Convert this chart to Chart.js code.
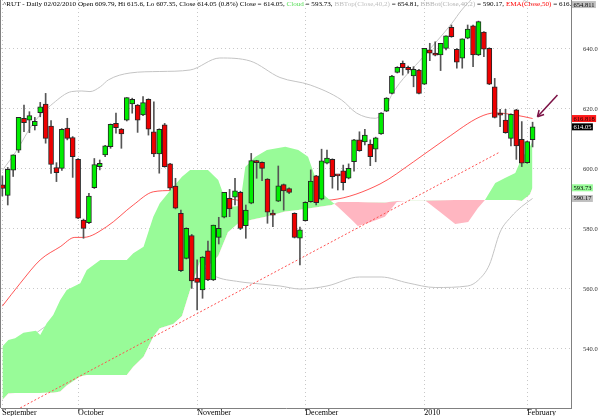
<!DOCTYPE html>
<html>
<head>
<meta charset="utf-8">
<script src="https://cdn.jsdelivr.net/npm/chart.js@4.4.1/dist/chart.umd.min.js"></script>
<style>
html, body { margin: 0; padding: 0; background: #fff; }
#wrap { position: relative; width: 600px; height: 416px; }
#title { position: absolute; left: 3px; top: 0; width: 568px; overflow: hidden; white-space: nowrap;
         font: 7.1px "Liberation Serif", serif; line-height: 9px; color: #000; }
</style>
</head>
<body>
<div id="wrap">
  <canvas id="chart" width="600" height="416"></canvas>
  <div id="title"></div>
</div>
<script>
// daily candles, 11 Sep 2009 .. 2 Feb 2010 (index = trading day)
const opens = [594.7, 591.2, 599.6, 606.3, 616.9, 616.3, 614.4, 618.8, 621.6, 614.3,
  600.5, 600.2, 613.6, 610.5, 603.2, 583.0, 582.1, 593.8, 600.8, 604.7,
  607.4, 615.2, 613.3, 616.3, 621.7, 621.3, 618.0, 623.2, 612.4, 605.0,
  614.7, 601.7, 594.3, 585.2, 570.2, 577.8, 563.6, 559.7, 572.7, 563.0,
  577.2, 583.9, 590.2, 590.6, 592.2, 581.1, 588.6, 602.7, 602.2, 596.6,
  585.1, 589.3, 594.8, 593.5, 585.2, 576.9, 582.8, 589.1, 597.7, 589.9,
  601.9, 603.2, 597.9, 599.4, 596.9, 602.4, 609.7, 609.0, 608.3, 606.6,
  611.7, 619.3, 625.2, 632.2, 635.2, 633.9, 631.0, 633.0, 628.3, 639.7,
  638.6, 638.0, 640.2, 647.2, 639.9, 636.9, 643.6, 647.7, 638.0, 645.6,
  640.2, 627.4, 618.6, 616.3, 610.2, 619.7, 609.9, 602.1, 609.79];
const highs = [597.7, 600.5, 604.7, 617.2, 621.3, 619.1, 617.2, 622.2, 625.2, 616.1,
  602.1, 613.5, 616.9, 610.8, 603.5, 583.3, 591.9, 603.5, 603.0, 607.9,
  615.0, 618.6, 613.5, 623.8, 623.6, 621.5, 624.1, 623.4, 622.4, 613.4,
  615.2, 601.9, 596.9, 586.3, 580.4, 578.2, 569.7, 570.8, 576.0, 581.3,
  583.9, 592.2, 593.2, 596.9, 592.6, 588.0, 605.2, 602.9, 602.4, 596.8,
  586.3, 601.0, 595.0, 593.7, 585.4, 580.6, 589.1, 599.7, 597.9, 606.6,
  606.3, 603.4, 598.1, 601.3, 601.7, 609.9, 612.4, 613.2, 609.7, 610.6,
  618.8, 623.8, 631.2, 634.1, 636.0, 634.3, 634.1, 633.2, 640.2, 641.9,
  642.4, 641.9, 644.4, 648.0, 640.1, 643.4, 648.0, 648.0, 649.3, 645.8,
  640.4, 630.2, 619.9, 619.9, 618.4, 619.9, 615.8, 609.3, 615.6];
const lows = [591.0, 588.0, 597.5, 605.5, 612.4, 612.1, 613.0, 617.4, 608.6, 598.5,
  595.8, 599.5, 609.7, 597.2, 583.4, 576.9, 581.8, 593.5, 599.7, 604.1,
  606.9, 611.9, 606.9, 616.0, 618.6, 612.2, 617.8, 611.3, 604.1, 598.6,
  600.6, 593.0, 586.7, 565.8, 570.0, 560.2, 553.0, 556.9, 562.8, 562.8,
  575.0, 583.7, 584.1, 588.0, 579.8, 576.9, 588.4, 596.9, 596.1, 581.9,
  580.8, 589.1, 586.3, 591.8, 577.0, 568.0, 582.6, 588.9, 588.0, 589.7,
  601.7, 593.6, 593.0, 593.0, 596.7, 599.3, 605.9, 608.0, 601.1, 602.4,
  611.5, 619.1, 625.0, 632.0, 631.3, 631.9, 627.4, 625.0, 628.1, 636.1,
  637.7, 632.8, 639.7, 643.9, 633.6, 633.6, 643.4, 634.1, 637.8, 637.4,
  628.1, 617.0, 614.1, 611.9, 607.7, 603.2, 600.8, 601.9, 607.35];
const closes = [593.5, 599.9, 604.7, 617.2, 615.4, 617.8, 615.9, 620.7, 610.2, 601.5,
  598.8, 613.2, 610.2, 604.1, 583.6, 580.2, 591.0, 601.5, 601.9, 607.7,
  614.9, 613.8, 611.7, 623.8, 623.2, 616.3, 622.1, 613.3, 605.0, 613.2,
  600.8, 593.6, 586.9, 566.1, 580.2, 562.7, 562.2, 570.6, 563.0, 581.3,
  580.2, 592.2, 586.7, 592.7, 580.2, 586.3, 602.8, 602.1, 600.2, 585.6,
  584.6, 594.4, 592.7, 592.2, 577.2, 579.7, 588.9, 596.0, 588.8, 602.7,
  603.6, 597.4, 597.7, 595.4, 600.2, 609.7, 606.1, 611.3, 604.1, 610.4,
  618.6, 623.6, 631.0, 633.9, 633.8, 633.0, 633.2, 625.2, 640.2, 638.6,
  637.9, 641.9, 644.4, 644.1, 635.6, 643.4, 646.6, 638.0, 649.1, 639.9,
  628.3, 617.2, 617.9, 612.1, 618.2, 607.7, 601.9, 609.1, 614.05];

// indicators, read at day positions
const bbTopIdx = [0, 2.7, 5.7, 9.4, 12.8, 14.7, 16.2, 18.1, 19.6, 23.6, 29.1, 34.7, 40.2, 45.8,
  51.3, 56.9, 62.7, 65.5, 68.9, 70.7, 71.9, 77.8, 83.1, 84.9, 87.4, 91.1, 94.8, 98];
const bbTopVal = [599.5, 606.3, 615.2, 621.9, 625.8, 626.0, 625.8, 627.4, 629.7, 632.0, 632.5, 633.0, 637.0, 636.0,
  630.5, 628.0, 623.0, 618.6, 616.9, 619.7, 624.5, 637.4, 648.6, 653.0, 657.5, 659.0, 657.5, 654.811];
const bbBotIdx = [0, 6, 12, 18, 24, 30, 34.7, 36.5, 38, 39, 43.9, 45.8, 51.3, 55, 60, 66, 70, 75, 80, 86,
  88, 90, 92, 94, 96, 98];
const bbBotVal = [535, 545, 552, 560, 566, 570, 571, 569, 566, 564.5, 562.4, 562, 561, 560, 561, 564, 564, 562, 560.5, 561,
  563, 568, 579, 584, 587.5, 590.17];
const emaIdx = [0, 3.3, 7.0, 10.7, 13.4, 15.0, 19.3, 24.2, 27.9, 31.3, 36.5, 43.9, 51.3, 60.9, 69.8, 76.0,
  82.1, 88.3, 91.1, 94.8, 98];
const emaVal = [554.3, 561.9, 569.7, 574.1, 577.2, 577.2, 580.8, 588.0, 592.4, 592.8, 592.0, 589.5, 589.0, 589.7, 595.0, 602.4,
  610.2, 617.4, 618.7, 618.0, 616.818];

// ichimoku cloud edges
const cloudIdx = [0, 1.1, 2.35, 3.9, 6.2, 7.0, 8.2, 9.4, 10.7, 11.9, 14.4, 15.6, 18.1, 23, 24.2, 26.1, 27.9, 29.1,
  31.6, 33.2, 34.7, 36.5, 38, 39.9, 41.7, 43.9, 44.9, 46.7, 48.9, 52.3, 54.7, 56.5, 57.8, 59, 60.9, 62,
  64.6, 65.7, 67.6, 70.7, 72.9, 75.4, 78.1, 80.9, 83.7, 86.1, 87.9, 89.2, 91.1, 92.9, 94.8, 96, 97.5, 98];
const spanA = [540.8, 543.0, 543.6, 545.4, 546.1, 544.7, 548.6, 551.3, 556.3, 559.7, 561.9, 566.3, 569.7, 569.7, 571.9, 574.1, 584.1, 588.6,
  594.1, 597.4, 599.7, 599.7, 599.7, 596.3, 587.3, 587.7, 600.7, 604.0, 606.3, 607.4, 606.3, 604.1, 597.4, 592.0, 589.1, 587.4,
  583.0, 581.0, 582.0, 584.1, 589.0, 589.5, 589.6, 585.7, 581.7, 582.3, 587.0, 589.7, 595.3, 597.0, 598.7, 603.7, 607.4, 609.3];
const spanB = [523.0, 525.2, 525.3, 525.3, 525.3, 525.3, 525.4, 525.4, 525.8, 527.8, 530.8, 531.3, 531.3, 531.3, 534.1, 537.4, 544.1, 546.9,
  548.3, 551.0, 559.7, 569.0, 567.5, 571.0, 578.9, 582.3, 582.6, 583.3, 584.2, 585.8, 586.3, 586.8, 587.2, 587.5, 588.0, 589.0,
  589.0, 589.0, 588.9, 588.8, 589.3, 589.4, 589.5, 589.6, 589.7, 589.7, 589.7, 589.7, 589.7, 589.7, 589.7, 589.3, 591.5, 593.73];

// drawn trend line and arrow annotation
const trendIdx = [2, 92];
const trendVal = [519.1, 605.7];
const arrowIdx = [102.6, 98.9];
const arrowVal = [624.7, 617.4];

const monthTickIdx = [0, 14, 36, 56, 78, 97];
const monthLabels = ['September', 'October', 'November', 'December', '2010', 'February'];
const yTicks = [540, 560, 580, 600, 620, 640];

const pts = (xs, ys) => xs.map((x, k) => ({ x: x, y: ys[k] }));
const dayIdx = opens.map((_, i) => i);
const isUp = closes.map((c, i) => c >= opens[i]);
const last = a => a[a.length - 1];

Chart.defaults.font.family = "'Liberation Serif', 'DejaVu Serif', serif";

const extras = {
  id: 'extras',
  beforeDatasetsDraw(chart) {
    const { ctx, chartArea: a } = chart;
    ctx.save();
    ctx.strokeStyle = '#808080';
    ctx.lineWidth = 1;
    ctx.beginPath();
    ctx.moveTo(a.left - 0.5, a.top);
    ctx.lineTo(a.left - 0.5, a.bottom);
    ctx.stroke();
    ctx.restore();
  },
  afterDatasetsDraw(chart) {
    // arrow head on the annotation
    const meta = chart.getDatasetMeta(chart.data.datasets.length - 1);
    const p0 = meta.data[0], p1 = meta.data[1];
    const ang = Math.atan2(p1.y - p0.y, p1.x - p0.x);
    const ctx = chart.ctx;
    ctx.save();
    ctx.strokeStyle = '#7b1145';
    ctx.lineWidth = 1.5;
    ctx.beginPath();
    [-0.5, 0.5].forEach(d => {
      ctx.moveTo(p1.x, p1.y);
      ctx.lineTo(p1.x - 7 * Math.cos(ang + d), p1.y - 7 * Math.sin(ang + d));
    });
    ctx.stroke();
    ctx.restore();
  },
  afterDraw(chart) {
    // last-value boxes on the right axis
    const { ctx, chartArea: a } = chart;
    const ys = chart.scales.y;
    const boxes = [
      { v: last(bbTopVal), bg: '#c0c0c0', fg: '#000' },
      { v: last(emaVal), bg: '#ff1a1a', fg: '#200' },
      { v: last(closes), bg: '#000', fg: '#fff' },
      { v: last(spanB), bg: '#98fb98', fg: '#000' },
      { v: last(bbBotVal), bg: '#c0c0c0', fg: '#000' }
    ];
    ctx.save();
    ctx.font = "6.5px 'Liberation Serif', serif";
    ctx.textBaseline = 'middle';
    boxes.forEach(b => {
      const t = String(b.v);
      const w = ctx.measureText(t).width + 3;
      const y = Math.max(ys.getPixelForValue(b.v) - 3.5, 0);
      ctx.fillStyle = b.bg;
      ctx.fillRect(a.right + 1, y, w, 7);
      ctx.fillStyle = b.fg;
      ctx.fillText(t, a.right + 2.5, y + 3.8);
    });
    ctx.restore();
  }
};

const chart = new Chart(document.getElementById('chart'), {
  type: 'bar',
  data: {
    datasets: [
      { type: 'line', label: 'BBTop', data: pts(bbTopIdx, bbTopVal), borderColor: '#c4c4c4', borderWidth: 1,
        pointRadius: 0, cubicInterpolationMode: 'monotone', order: 10 },
      { type: 'line', label: 'BBBot', data: pts(bbBotIdx, bbBotVal), borderColor: '#c4c4c4', borderWidth: 1,
        pointRadius: 0, cubicInterpolationMode: 'monotone', order: 10 },
      { type: 'line', label: 'EMA', data: pts(emaIdx, emaVal), borderColor: 'rgba(255,30,30,0.75)', borderWidth: 1,
        pointRadius: 0, cubicInterpolationMode: 'monotone', order: 10 },
      { type: 'line', label: 'SpanB', data: pts(cloudIdx, spanB), borderWidth: 0, borderColor: 'rgba(0,0,0,0)',
        pointRadius: 0, fill: false, order: 9 },
      { type: 'line', label: 'SpanA', data: pts(cloudIdx, spanA), borderWidth: 0, borderColor: 'rgba(0,0,0,0)',
        pointRadius: 0, fill: { target: '-1', above: '#98fb98', below: '#ffb6c1' }, order: 8 },
      { type: 'line', label: 'Trend', data: pts(trendIdx, trendVal), borderColor: '#ff5050', borderWidth: 1,
        borderDash: [2, 2], pointRadius: 0, order: 5 },
      { label: 'wick', data: dayIdx.map(i => ({ x: i, y: [lows[i], highs[i]] })), backgroundColor: '#555',
        barThickness: 1, grouped: false, order: 2 },
      { label: 'body', data: dayIdx.map(i => ({ x: i, y: [opens[i], closes[i]] })),
        backgroundColor: isUp.map(u => u ? '#00ee00' : '#ee0000'), borderColor: '#262626', borderWidth: 1,
        borderSkipped: false, barThickness: 5, minBarLength: 2, grouped: false, order: 1 },
      { type: 'line', label: 'arrow', data: pts(arrowIdx, arrowVal), borderColor: '#7b1145', borderWidth: 1.5,
        pointRadius: 0, order: 0, clip: false }
    ]
  },
  options: {
    responsive: false,
    animation: false,
    devicePixelRatio: 1,
    layout: { padding: { left: 1, right: 0, top: 0, bottom: 0 } },
    plugins: { legend: { display: false }, tooltip: { enabled: false } },
    events: [],
    scales: {
      x: {
        type: 'linear', min: -0.25, max: 105.1, offset: false,
        grid: { offset: false, color: '#c8c8c8', drawTicks: true, tickLength: 3, tickColor: '#808080', tickBorderDash: [] },
        border: { color: '#808080', dash: [1, 3] },
        ticks: { autoSkip: false, maxRotation: 0, align: 'start', padding: -3, color: '#000', font: { size: 8 },
          callback: (v, k) => monthLabels[k] },
        afterBuildTicks: s => { s.ticks = monthTickIdx.map(v => ({ value: v })); },
        afterFit: s => { s.height = 8; s.paddingLeft = 0; s.paddingRight = 0; }
      },
      y: {
        position: 'right', min: 520.33, max: 656.33,
        grid: { color: '#c8c8c8', drawTicks: false },
        border: { color: '#808080', dash: [1, 3] },
        ticks: { padding: 12, color: '#333', font: { size: 6.5 }, callback: v => v.toFixed(1) },
        afterBuildTicks: s => { s.ticks = yTicks.map(v => ({ value: v })); },
        afterFit: s => { s.width = 29; s.paddingTop = 0; s.paddingBottom = 0; }
      }
    }
  },
  plugins: [extras]
});

// header line built from the last bar and indicator values
const n = closes.length - 1;
const pct = ((closes[n] / closes[n - 1] - 1) * 100).toFixed(1);
document.getElementById('title').innerHTML =
  '^RUT - Daily 02/02/2010 Open ' + opens[n] + ', Hi ' + highs[n] + ', Lo ' + lows[n] + ', Close ' + closes[n] +
  ' (' + pct + '%) Close = ' + closes[n] + ', <span style="color:#55dd55">Cloud</span> = ' + last(spanB) +
  ', <span style="color:#c0c0c0">BBTop(Close,40,2)</span> = ' + last(bbTopVal).toFixed(2) +
  ', <span style="color:#b4b4b4">BBBot(Close,40,2)</span> = ' + last(bbBotVal) +
  ', <span style="color:#ff0000">EMA(Close,50)</span> = ' + last(emaVal);
</script>
</body>
</html>
